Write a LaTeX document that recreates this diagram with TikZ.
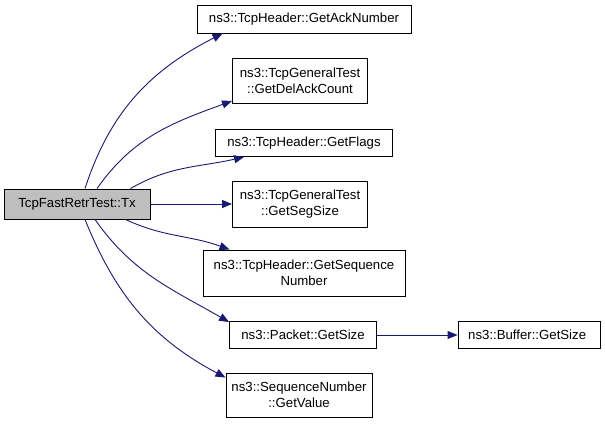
\documentclass[tikz,border=0pt]{standalone}
\usepackage{fontspec}
\setmainfont{Liberation Sans}
\usepackage{xcolor}
\usetikzlibrary{arrows.meta}
\definecolor{edgeblue}{HTML}{191970}
\tikzset{
  fn/.style={draw=black, fill=white, align=center, inner sep=1pt, line width=0.9pt,
    font=\fontsize{13.2}{15.5}\selectfont},
  call/.style={draw=edgeblue, line width=0.9pt, -{Triangle[length=10pt,width=8pt]}}
}
\begin{document}
\begin{tikzpicture}[x=1pt,y=1pt]
    \useasboundingbox (0,0) rectangle (605,-424);
    \node[fn, fill=black!25, minimum width=146pt, minimum height=30pt] (root) at (77,-204) {TcpFastRetrTest::Tx};
    \foreach \n/\x/\y/\w/\h/\t in {
     ack/304/-19/214/28/{ns3::TcpHeader::GetAckNumber},
     delack/300/-81/135/45/{ns3::TcpGeneralTest\\::GetDelAckCount},
     flags/304/-143/177/27/{ns3::TcpHeader::GetFlags},
     seg/300/-204/135/46/{ns3::TcpGeneralTest\\::GetSegSize},
     seq/304/-273/202/46/{ns3::TcpHeader::GetSequence\\Number},
     pkt/303/-335/147/27/{ns3::Packet::GetSize},
     val/299/-395/146/44/{ns3::SequenceNumber\\::GetValue},
     buf/529/-335/142/27/{ns3::Buffer::GetSize}
     } {
      \node[fn, minimum width=\w pt, minimum height=\h pt] (\n) at (\x,\y) {\t};
     }
    \draw[call] ([xshift=8]root.north) to[out=72, in=207] ([xshift=26]ack.south west);
    \draw[call] ([xshift=20]root.north) to[out=55, in=200] ([yshift=3]delack.south west);
    \draw[call] ([xshift=-20]root.north east) to[out=30, in=193] ([xshift=29]flags.south west);
    \draw[call] (root) -- (seg);
    \draw[call] ([xshift=-25]root.south east) to[out=-25, in=160] ([xshift=27]seq.north west);
    \draw[call] ([xshift=18]root.south) to[out=-55, in=150] ([yshift=-1]pkt.north west);
    \draw[call] ([xshift=8]root.south) to[out=-68, in=152] ([yshift=-5]val.north west);
    \draw[call] (pkt) -- (buf);
\end{tikzpicture}
\end{document}
